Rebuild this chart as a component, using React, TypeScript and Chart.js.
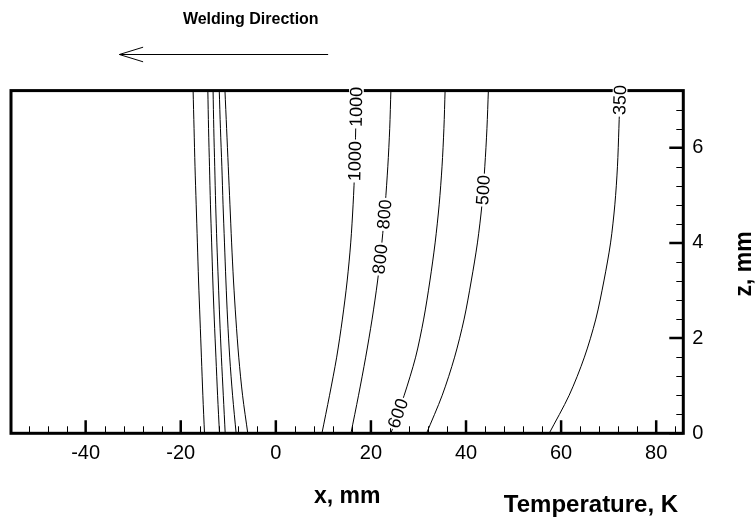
import { useEffect, useRef } from 'react';
import { Chart, registerables } from 'chart.js';

Chart.register(...registerables);

const FONT = "'Liberation Sans', Arial, Helvetica, sans-serif";

// Depth coordinates (mm) shared by every isotherm trace
const zGrid = [0, 0.8, 1.6, 2.4, 3.2, 4.0, 4.8, 5.6, 6.4, 7.2];

// Isotherm levels, K
const levels = [350, 500, 600, 800, 1000];

// Leading edge of each isotherm (ahead of the heat source), x in mm
const front350 = [-15.0, -15.35, -15.65, -15.95, -16.25, -16.5, -16.75, -17.0, -17.2, -17.4];
const front500 = [-11.85, -12.25, -12.6, -12.95, -13.25, -13.5, -13.75, -13.95, -14.15, -14.3];
const front600 = [-10.65, -11.05, -11.45, -11.8, -12.1, -12.4, -12.65, -12.85, -13.05, -13.2];
const front800 = [-8.35, -9.1, -9.7, -10.15, -10.5, -10.8, -11.1, -11.35, -11.65, -11.9];
const front1000 = [-5.9, -7.0, -7.8, -8.4, -8.9, -9.3, -9.65, -10.0, -10.35, -10.7];

// Trailing edge of each isotherm (behind the heat source), x in mm
const rear1000 = [9.7, 11.3, 12.8, 14.0, 15.0, 15.75, 16.25, 16.6, 16.8, 16.95];
const rear800 = [15.8, 17.4, 18.9, 20.25, 21.4, 22.3, 23.0, 23.55, 23.95, 24.2];
const rear600 = [24.2, 27.0, 29.4, 31.1, 32.4, 33.5, 34.35, 34.95, 35.35, 35.6];
const rear500 = [31.7, 35.0, 37.6, 39.6, 41.1, 42.4, 43.35, 43.95, 44.4, 44.7];
const rear350 = [57.5, 61.7, 64.9, 67.3, 69.0, 70.4, 71.3, 71.85, 72.15, 72.4];

// Depths (mm) at which the level value is written along the trailing isotherms
const rear1000Labels = [6.86, 5.72];
const rear800Labels = [4.6, 3.66];
const rear600Labels = [0.42];
const rear500Labels = [5.11];
const rear350Labels = [7.0];

// Axis ranges and tick labels
const xRange = [-55.7, 85.7];
const zRange = [0, 7.2];
const xTicks = [-40, -20, 0, 20, 40, 60, 80];
const zTicks = [0, 2, 4, 6];
const xMinorStep = 4;
const zMinorStep = 0.4;

// Welding direction arrow, x in mm (tail -> head)
const arrowTail = 11.0;
const arrowHead = -32.9;

const fronts = [front350, front500, front600, front800, front1000];
const rears = [rear350, rear500, rear600, rear800, rear1000];
const rearLabels = [rear350Labels, rear500Labels, rear600Labels, rear800Labels, rear1000Labels];

function trace(xs: number[], level: number, labelsAt: number[]) {
  return {
    label: `${level} K`,
    data: xs.map((x, i) => ({ x, y: zGrid[i] })),
    showLine: true,
    pointRadius: 0,
    pointHoverRadius: 0,
    borderColor: '#000',
    borderWidth: 1,
    tension: 0.3,
    fill: false,
    isoLevel: level,
    isoLabels: labelsAt,
  };
}

function buildDatasets() {
  const sets: any[] = [];
  levels.forEach((lv, i) => {
    sets.push(trace(fronts[i], lv, []));
    sets.push(trace(rears[i], lv, rearLabels[i]));
  });
  return sets;
}

// Closed frame with inward ticks on the bottom and right axes
const framePlugin = {
  id: 'frameTicks',
  beforeDatasetsDraw(chart: any) {
    const { ctx, chartArea: a, scales } = chart;
    const xs = scales.x;
    const ys = scales.y;
    ctx.save();
    ctx.strokeStyle = '#000';
    ctx.lineCap = 'butt';

    // minor ticks
    ctx.lineWidth = 1;
    ctx.beginPath();
    for (let v = Math.ceil(xRange[0] / xMinorStep) * xMinorStep; v <= xRange[1]; v += xMinorStep) {
      if (xTicks.includes(v)) continue;
      const px = Math.round(xs.getPixelForValue(v)) + 0.5;
      ctx.moveTo(px, a.bottom);
      ctx.lineTo(px, a.bottom - 7);
    }
    for (let k = 1; k * zMinorStep <= zRange[1] + 1e-6; k++) {
      const v = +(k * zMinorStep).toFixed(2);
      if (zTicks.some((t) => Math.abs(t - v) < 1e-6)) continue;
      const py = Math.round(ys.getPixelForValue(v)) + 0.5;
      ctx.moveTo(a.right, py);
      ctx.lineTo(a.right - 7, py);
    }
    ctx.stroke();

    // major ticks
    ctx.lineWidth = 2.5;
    ctx.beginPath();
    xTicks.forEach((v) => {
      const px = xs.getPixelForValue(v);
      ctx.moveTo(px, a.bottom);
      ctx.lineTo(px, a.bottom - 13);
    });
    zTicks.forEach((v) => {
      const py = ys.getPixelForValue(v);
      ctx.moveTo(a.right, py);
      ctx.lineTo(a.right - 14, py);
    });
    ctx.stroke();

    // frame
    ctx.lineWidth = 3;
    ctx.strokeRect(a.left, a.top, a.right - a.left, a.bottom - a.top);
    ctx.restore();
  },
};

// In-line level labels, annotations and the welding direction arrow
const labelPlugin = {
  id: 'isoLabels',
  afterDatasetsDraw(chart: any) {
    const { ctx, scales } = chart;
    const xs = scales.x;
    const ys = scales.y;
    const size = 18;
    ctx.save();
    ctx.font = `${size}px ${FONT}`;
    ctx.textAlign = 'center';
    ctx.textBaseline = 'middle';
    chart.data.datasets.forEach((ds: any) => {
      (ds.isoLabels || []).forEach((z: number) => {
        let i = 0;
        while (i < ds.data.length - 2 && ds.data[i + 1].y < z) i++;
        const p0 = ds.data[i];
        const p1 = ds.data[i + 1];
        const t = (z - p0.y) / (p1.y - p0.y);
        const x = p0.x + t * (p1.x - p0.x);
        const px = xs.getPixelForValue(x);
        const py = ys.getPixelForValue(z);
        const dx = xs.getPixelForValue(p1.x) - xs.getPixelForValue(p0.x);
        const dy = ys.getPixelForValue(p1.y) - ys.getPixelForValue(p0.y);
        const ang = Math.atan2(dy, dx);
        const text = String(ds.isoLevel);
        const w = ctx.measureText(text).width;
        const h = size * 0.82;
        ctx.save();
        ctx.translate(px, py);
        ctx.rotate(ang);
        ctx.fillStyle = '#fff';
        ctx.fillRect(-w / 2 - 1.5, -h / 2, w + 3, h);
        ctx.fillStyle = '#000';
        ctx.fillText(text, 0, 1);
        ctx.restore();
      });
    });
    ctx.restore();
  },
  afterDraw(chart: any) {
    const { ctx, chartArea: a, scales, height, width } = chart;
    const xs = scales.x;
    ctx.save();
    ctx.fillStyle = '#000';
    ctx.strokeStyle = '#000';

    // Welding direction caption and arrow
    ctx.font = `bold 16px ${FONT}`;
    ctx.textAlign = 'center';
    ctx.textBaseline = 'alphabetic';
    const tailPx = xs.getPixelForValue(arrowTail);
    const headPx = xs.getPixelForValue(arrowHead);
    ctx.fillText('Welding Direction', (tailPx + headPx) / 2 + 27, a.top - 66.6);
    const ay = a.top - 36.6;
    ctx.lineWidth = 1;
    ctx.beginPath();
    ctx.moveTo(tailPx, ay + 0.5);
    ctx.lineTo(headPx, ay + 0.5);
    ctx.moveTo(headPx + 23.7, ay - 6.8);
    ctx.lineTo(headPx, ay + 0.5);
    ctx.lineTo(headPx + 23.7, ay + 7.8);
    ctx.stroke();

    // Quantity caption for the isotherm levels
    ctx.font = `bold 24px ${FONT}`;
    ctx.fillText('Temperature, K', a.right - 92.3, height - 8.3);

    // Right-hand axis title, reading upward
    ctx.save();
    ctx.translate(width - 11, (a.top + a.bottom) / 2 + 2);
    ctx.rotate(-Math.PI / 2);
    ctx.textBaseline = 'middle';
    ctx.font = `bold 23px ${FONT}`;
    ctx.fillText('z, mm', 0, 0);
    ctx.restore();

    ctx.restore();
  },
};

export default function App() {
  const ref = useRef<HTMLCanvasElement | null>(null);

  useEffect(() => {
    if (!ref.current) return;
    const chart = new Chart(ref.current, {
      type: 'scatter',
      data: { datasets: buildDatasets() },
      options: {
        animation: false,
        responsive: false,
        devicePixelRatio: 1,
        events: [],
        layout: { padding: { top: 90.6, left: 11, right: 0, bottom: 0 } },
        plugins: {
          legend: { display: false },
          tooltip: { enabled: false },
        },
        scales: {
          x: {
            type: 'linear',
            position: 'bottom',
            min: xRange[0],
            max: xRange[1],
            grid: { display: false, drawTicks: false },
            border: { display: false },
            afterBuildTicks: (s: any) => {
              s.ticks = xTicks.map((v) => ({ value: v }));
            },
            afterFit: (s: any) => {
              s.height = 86.7;
            },
            ticks: {
              color: '#000',
              font: { family: FONT, size: 20 },
              padding: 8,
              maxRotation: 0,
              autoSkip: false,
            },
            title: {
              display: true,
              text: 'x, mm',
              color: '#000',
              font: { family: FONT, size: 23, weight: 'bold' },
              padding: { top: 0, bottom: 10 },
            },
          },
          y: {
            type: 'linear',
            position: 'right',
            min: zRange[0],
            max: zRange[1],
            grid: { display: false, drawTicks: false },
            border: { display: false },
            afterBuildTicks: (s: any) => {
              s.ticks = zTicks.map((v) => ({ value: v }));
            },
            afterFit: (s: any) => {
              s.width = 72.7;
            },
            ticks: {
              color: '#000',
              font: { family: FONT, size: 20 },
              padding: 9,
              autoSkip: false,
            },
          },
        },
      } as any,
      plugins: [framePlugin, labelPlugin],
    });
    return () => chart.destroy();
  }, []);

  return (
    <div style={{ position: 'fixed', left: 0, top: 0, width: 756, height: 520, background: '#fff' }}>
      <canvas ref={ref} width={756} height={520} />
    </div>
  );
}
